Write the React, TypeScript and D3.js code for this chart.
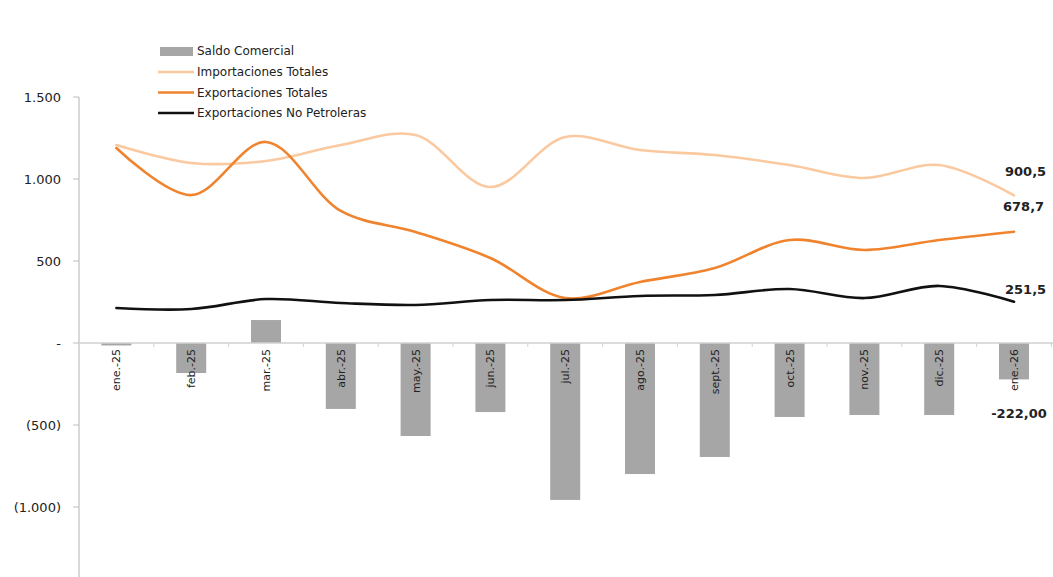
import React from "react";
import * as d3 from "d3";

const categories = ["ene.-25","feb.-25","mar.-25","abr.-25","may.-25","jun.-25","jul.-25","ago.-25","sept.-25","oct.-25","nov.-25","dic.-25","ene.-26"];
const saldoComercial = [-15,-183,140,-402,-567,-421,-957,-799,-695,-451,-439,-439,-222];
const importaciones = [1207,1098,1110,1207,1268,951,1256,1177,1146,1085,1006,1085,900.5];
const exportaciones = [1189,902,1226,805,677,518,274,372,457,628,567,628,678.7];
const noPetroleras = [213,207,268,244,232,262,262,287,293,329,274,348,251.5];
const yTicks = [1500,1000,500,0,-500,-1000];
const yTickLabels = ["1.500","1.000","500","-","(500)","(1.000)"];
const endLabels = ["900,5","678,7","251,5","-222,00"];

const W = 1053, H = 577;
const FONT = "'DejaVu Sans', sans-serif";

export default function App() {
  const x0 = 79, x1 = 79 + 13 * 74.8;
  const y = d3.scaleLinear().domain([-1500, 1500]).range([589, 97]);
  const x = d3.scaleBand<string>().domain(categories).range([x0, x1]);
  const cx = (i: number) => (x(categories[i]) as number) + x.bandwidth() / 2;
  const line = d3.line<number>().x((_, i) => cx(i)).y(d => y(d)).curve(d3.curveCatmullRom.alpha(0.5));
  const barW = 30;
  const last = categories.length - 1;
  const series = [
    { name: "Importaciones Totales", data: importaciones, color: "#fbc9a0" },
    { name: "Exportaciones Totales", data: exportaciones, color: "#f0842e" },
    { name: "Exportaciones No Petroleras", data: noPetroleras, color: "#111111" },
  ];
  return (
    <svg width={W} height={H} style={{ position: "absolute", left: 0, top: 0, background: "#fff" }} fontFamily={FONT}>
      {/* y axis */}
      <line x1={x0} x2={x0} y1={y(1500)} y2={H} stroke="#bfbfbf" strokeWidth={1.2} />
      {yTicks.map((t, i) => (
        <g key={t}>
          <line x1={x0 - 6} x2={x0} y1={y(t)} y2={y(t)} stroke="#bfbfbf" />
          <text x={61} y={y(t)} dy="0.35em" textAnchor="end" fontSize={13} fill="#222">{yTickLabels[i]}</text>
        </g>
      ))}
      {/* bars */}
      {saldoComercial.map((v, i) => (
        <rect key={i} x={cx(i) - barW / 2} width={barW} y={Math.min(y(v), y(0))} height={Math.abs(y(v) - y(0))} fill="#a6a6a6" />
      ))}
      {/* zero axis */}
      <line x1={x0} x2={W} y1={y(0)} y2={y(0)} stroke="#d0d0d0" strokeWidth={1.5} />
      {categories.map((c) => (
        <line key={c} x1={(x(c) as number) + x.bandwidth()} x2={(x(c) as number) + x.bandwidth()} y1={y(0)} y2={y(0) + 4} stroke="#d0d0d0" />
      ))}
      {categories.map((c, i) => (
        <text key={c} transform={`translate(${cx(i) + 4},${y(0) + 6}) rotate(-90)`} textAnchor="end" fontSize={11} fill="#222">{c}</text>
      ))}
      {/* lines */}
      {series.map(s => (
        <path key={s.name} d={line(s.data) as string} fill="none" stroke={s.color} strokeWidth={2.6} strokeLinecap="round" />
      ))}
      {/* end labels */}
      <text x={1005} y={y(importaciones[last]) - 24} dy="0.35em" fontSize={13} fontWeight="bold" fill="#222">{endLabels[0]}</text>
      <text x={1003} y={y(exportaciones[last]) - 25} dy="0.35em" fontSize={13} fontWeight="bold" fill="#222">{endLabels[1]}</text>
      <text x={1005} y={y(noPetroleras[last]) - 12} dy="0.35em" fontSize={13} fontWeight="bold" fill="#222">{endLabels[2]}</text>
      <text x={cx(last) + 5} y={y(saldoComercial[last]) + 34} dy="0.35em" textAnchor="middle" fontSize={13} fontWeight="bold" fill="#222">{endLabels[3]}</text>
      {/* legend */}
      <g fontSize={12} fill="#222">
        <rect x={160} y={47} width={33} height={9} fill="#a6a6a6" />
        <text x={197} y={51} dy="0.35em">Saldo Comercial</text>
        {series.map((s, i) => (
          <g key={s.name}>
            <line x1={158} x2={194} y1={72 + i * 20.5} y2={72 + i * 20.5} stroke={s.color} strokeWidth={2.6} />
            <text x={197} y={72 + i * 20.5} dy="0.35em">{s.name}</text>
          </g>
        ))}
      </g>
    </svg>
  );
}
